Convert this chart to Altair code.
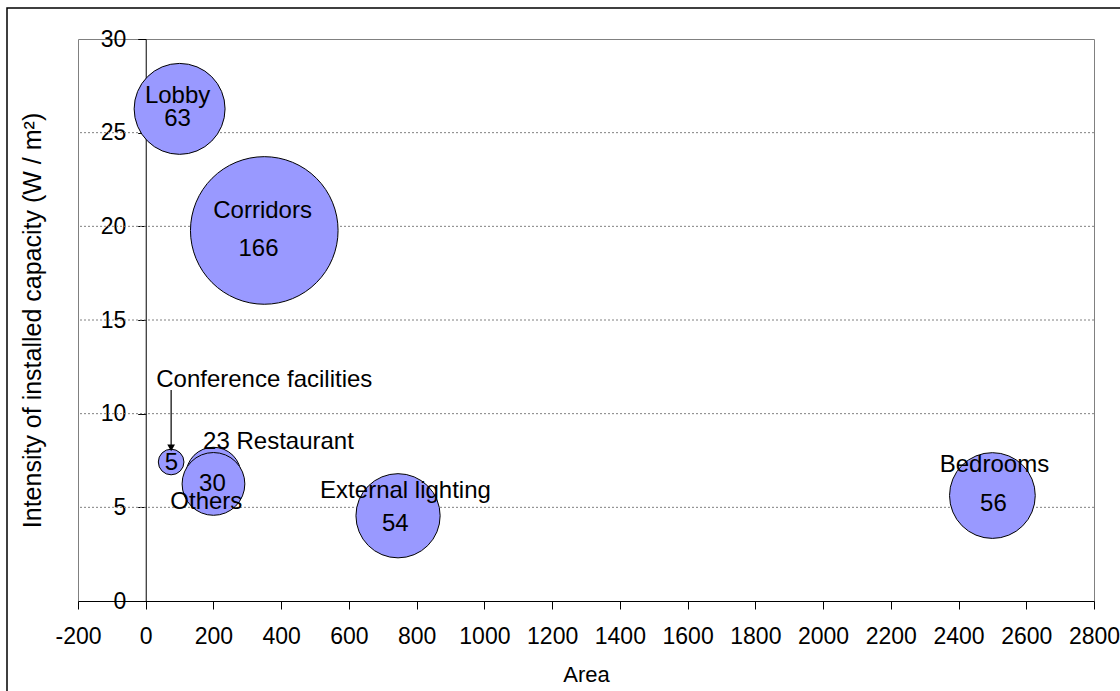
import altair as alt
import pandas as pd

# ---- data ----
names = ["Lobby", "Corridors", "Conference facilities", "Restaurant", "Others", "External lighting", "Bedrooms"]
area = [100, 350, 75, 200, 200, 745, 2500]
intensity = [26.27, 19.78, 7.42, 6.74, 6.25, 4.55, 5.63]
capacity = [63, 166, 5, 23, 30, 54, 56]

label_text = ["Lobby", "63", "Corridors", "166", "Conference facilities", "5", "23 Restaurant",
              "30", "Others", "External lighting", "54", "Bedrooms", "56"]
label_x = [94, 94, 345, 333, 350, 76, 392, 197, 179, 767, 737, 2506, 2503]
label_y = [26.95, 25.73, 20.82, 18.79, 11.80, 7.37, 8.50, 6.25, 5.30, 5.89, 4.11, 7.26, 5.18]

x_ticks = list(range(-200, 2801, 200))
y_ticks = [0, 5, 10, 15, 20, 25, 30]
grid_y = [5, 10, 15, 20, 25]

arrow_x = [75]
arrow_y_start = [11.26]
arrow_y_end = [8.2]
arrow_head_y = [8.17]

FONT = "Liberation Sans"

bubbles_df = pd.DataFrame({"name": names, "area": area, "intensity": intensity, "capacity": capacity,
                           "order": list(range(len(names)))})
labels_df = pd.DataFrame({"text": label_text, "x": label_x, "y": label_y})
grid_df = pd.DataFrame({"y": grid_y})
arrow_df = pd.DataFrame({"x": arrow_x, "y": arrow_y_start, "y2": arrow_y_end, "yh": arrow_head_y})

x_scale = alt.Scale(domain=[-200, 2800], nice=False, zero=False)
y_scale = alt.Scale(domain=[0, 30], nice=False, zero=False)

W, H = 1016, 562
y_axis_offset = -W * 200 / 3000

x_axis = alt.Axis(values=x_ticks, title="Area", grid=False, domainColor="black",
                  tickColor="black", tickSize=8, labelPadding=16,
                  labelExpr="'' + datum.value",
                  labelFont=FONT, labelFontSize=23, labelColor="black",
                  titleFont=FONT, titleFontSize=22, titleFontWeight="normal",
                  titleColor="black", titlePadding=16, labelFlush=False)
y_axis = alt.Axis(values=y_ticks, title="Intensity of installed capacity (W / m²)",
                  grid=False, offset=y_axis_offset, domainColor="black",
                  tickColor="black", tickSize=8, labelPadding=12,
                  labelExpr="'' + datum.value",
                  labelFont=FONT, labelFontSize=23, labelColor="black",
                  titleFont=FONT, titleFontSize=25, titleFontWeight="normal",
                  titleColor="black", titlePadding=55, labelFlush=False)

grid = alt.Chart(grid_df).mark_rule(color="#808080", strokeWidth=1, strokeDash=[2, 2]).encode(
    y=alt.Y("y:Q", scale=y_scale, axis=y_axis)
)

bubbles = alt.Chart(bubbles_df).mark_circle(
    color="#9999FF", opacity=1, stroke="black", strokeWidth=1
).encode(
    x=alt.X("area:Q", scale=x_scale, axis=x_axis),
    y=alt.Y("intensity:Q", scale=y_scale, axis=y_axis),
    size=alt.Size("capacity:Q", scale=alt.Scale(domain=[0, 166], range=[0, 21786], zero=True), legend=None),
    order=alt.Order("order:Q"),
)

arrow_line = alt.Chart(arrow_df).mark_rule(color="black", strokeWidth=1.2).encode(
    x=alt.X("x:Q", scale=x_scale, axis=x_axis), y=alt.Y("y:Q", scale=y_scale, axis=y_axis), y2="y2:Q"
)
arrow_head = alt.Chart(arrow_df).mark_point(shape="triangle-down", filled=True, color="black",
                                            size=60, opacity=1).encode(
    x=alt.X("x:Q", scale=x_scale, axis=x_axis), y=alt.Y("yh:Q", scale=y_scale, axis=y_axis)
)

labels = alt.Chart(labels_df).mark_text(font=FONT, fontSize=24, color="black",
                                        align="center", baseline="middle").encode(
    x=alt.X("x:Q", scale=x_scale, axis=x_axis), y=alt.Y("y:Q", scale=y_scale, axis=y_axis), text="text:N"
)

frame = alt.Chart(pd.DataFrame({"k": [0]})).mark_rect(
    fill="white", fillOpacity=0, stroke="black", strokeWidth=1.5
).encode(
    x=alt.value(-71), x2=alt.value(1120 - 78 + 10), y=alt.value(-31), y2=alt.value(691 - 39 + 10)
)

chart = alt.layer(grid, bubbles, arrow_line, arrow_head, labels, frame).properties(
    width=W, height=H,
    autosize=alt.AutoSizeParams(type="none"),
    padding={"left": 78, "top": 39, "right": 1120 - 78 - W, "bottom": 691 - 39 - H},
    background="white",
).configure_view(stroke="#808080", strokeWidth=1)

chart.save("out.html", embed_options={"renderer": "svg", "actions": False})
